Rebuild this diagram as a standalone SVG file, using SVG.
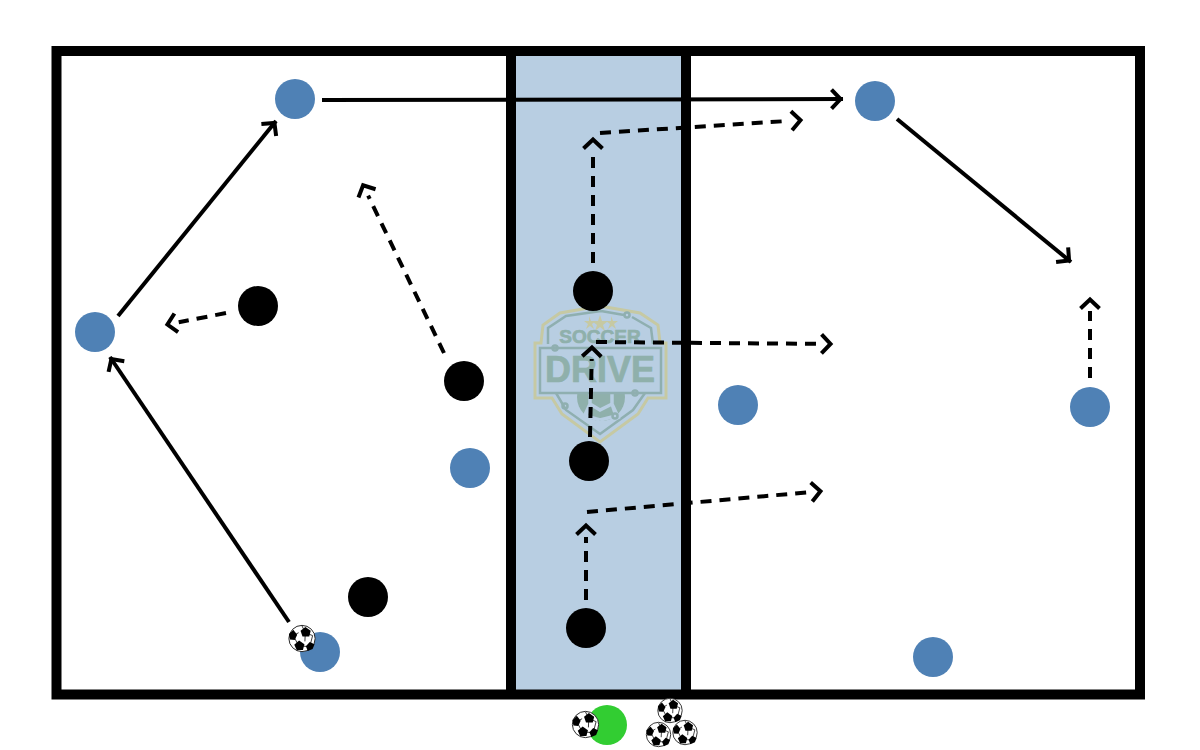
<svg xmlns="http://www.w3.org/2000/svg" width="1200" height="750" viewBox="0 0 1200 750">
<style>
.blue{fill:#4f81b5}.black{fill:#000}.green{fill:#32cd32}
.line{fill:none;stroke:#000;stroke-width:4;marker-end:url(#open)}
.dash{stroke-dasharray:11 8;marker-end:url(#open-d)}
.lg{fill:none;stroke:#8fafb0;stroke-width:2.5}
.lt{font-family:"Liberation Sans",Arial,sans-serif;font-weight:700;fill:#8fb0ab;stroke:#8fb0ab;stroke-width:.7;text-anchor:middle}
</style>
<defs>
<marker id="open" markerUnits="userSpaceOnUse" markerWidth="24" markerHeight="24" refX="12" refY="12" orient="auto" overflow="visible">
<path d="M0.500 2.500L9.500 12L0.500 21.500" fill="none" stroke="#000" stroke-width="4"/>
</marker>
<marker id="open-d" markerUnits="userSpaceOnUse" markerWidth="24" markerHeight="24" refX="-2" refY="12" orient="auto" overflow="visible">
<path d="M0.500 2.500L9.500 12L0.500 21.500" fill="none" stroke="#000" stroke-width="4"/>
</marker>
<symbol id="ball" viewBox="-14.500 -14.500 29 29" overflow="visible">
<circle r="13.600" fill="#fff" stroke="#222" stroke-width="1"/>
<path d="M-9 -3L-3.500 -6M3.400 -6L3 3M-3.500 7.500L-9 -3M-3.500 7.500L8 8.500M8 8.500L11 -3M3.400 -6L11 -3M-3.500 7.500L-5 12.500M8 8.500L6 12.500M3.400 -6L0 -13" fill="none" stroke="#000" stroke-width=".8"/>
<g fill="#000">
<path d="M3.500 -12L9 -8L7.500 -2L0.500 -2L-1.500 -8Z"/>
<path d="M-9 -9L-5 -4L-7.500 1.500L-12.500 1L-13.500 -4.500Z"/>
<path d="M-3 2L2.500 6L1 12L-5.500 12L-8 6.500Z"/>
<path d="M8 3.500L13 6L11 11L6 13L4 8Z"/>
</g>
</symbol>
</defs>
<g id="field">
<rect x="511" y="51" width="175" height="643" fill="#b8cee2"/>
<g id="logo">
<path d="M600 306L640 313L658 325L660 343L666 343L666 398L648 398L638 414L600 442L562 414L552 398L535 398L535 343L541 343L543 325L560 313Z" fill="none" stroke="#c6c9a3" stroke-width="3"/>
<path d="M601 311L624 315M632 317L651 328L653 344M548 344L548 328L566 316L601 311M556 393L566 410L600 434L633 410L645 393" class="lg"/>
<circle cx="601" cy="397" r="24" fill="#8fb0ab"/>
<path d="M590 389L590 404L600 410L612 404L612 389M590 404L583 419M612 404L619 419M590 389L600 383L612 389M590 404L586 416L600 420M612 404L616 416L600 420" fill="none" stroke="#b8cee2" stroke-width="3.500"/>
<rect x="575" y="371" width="52" height="22" fill="#b8cee2"/>
<rect x="540" y="348" width="121" height="45" class="lg"/>
<circle cx="627" cy="315" r="2.500" class="lg"/>
<circle cx="555" cy="348" r="2.500" class="lg"/>
<circle cx="635" cy="393" r="2.500" class="lg"/>
<circle cx="565" cy="406" r="2.500" class="lg"/>
<circle cx="615" cy="416" r="2.500" class="lg"/>
<path d="M589 316l2 5 5 0-4 3 2 5-4-3-4 3 2-5-4-3 5 0ZM600 315l2 6 6 0-5 4 2 6-5-4-5 4 2-6-5-4 6 0ZM611 316l2 5 5 0-4 3 2 5-4-3-4 3 2-5-4-3 5 0Z" fill="#c6c9a3"/>
<text x="600" y="343" class="lt" font-size="19">SOCCER</text>
<text x="600" y="382" class="lt" font-size="36">DRIVE</text>
</g>
<rect x="56.500" y="51" width="1083.500" height="643.500" fill="none" stroke="#000" stroke-width="10"/>
<path d="M511 51V694M686 51V694" stroke="#000" stroke-width="10" fill="none"/>
</g>
<g id="connectors">
<path class="line" d="M289 622L110 357"/>
<path class="line" d="M118 316L276 121"/>
<path class="line" d="M322 100L843 99"/>
<path class="line" d="M897 119L1071 262"/>
<path class="line dash" d="M226 313L178.700 322.300"/>
<path class="line dash" d="M444 353L368.100 195.600"/>
<path class="line dash" d="M593 263L593 151"/>
<path class="line dash" d="M600 133L789 120.900"/>
<path class="line dash" d="M590 437L591.700 359"/>
<path class="line dash" d="M596 342L819 343.900"/>
<path class="line dash" d="M586 600L586 537"/>
<path class="line dash" d="M587 512L809 492.200"/>
<path class="line dash" d="M1090 378L1090 311"/>
</g>
<g id="blue-1"><circle class="blue" cx="295" cy="99" r="20"/></g>
<g id="blue-2"><circle class="blue" cx="95" cy="332" r="20"/></g>
<g id="blue-3"><circle class="blue" cx="470" cy="468" r="20"/></g>
<g id="blue-4"><circle class="blue" cx="320" cy="652" r="20"/></g>
<g id="blue-5"><circle class="blue" cx="875" cy="101" r="20"/></g>
<g id="blue-6"><circle class="blue" cx="738" cy="405" r="20"/></g>
<g id="blue-7"><circle class="blue" cx="1090" cy="407" r="20"/></g>
<g id="blue-8"><circle class="blue" cx="933" cy="657" r="20"/></g>
<g id="black-1"><circle class="black" cx="258" cy="306" r="20"/></g>
<g id="black-2"><circle class="black" cx="464" cy="381" r="20"/></g>
<g id="black-3"><circle class="black" cx="368" cy="597" r="20"/></g>
<g id="black-4"><circle class="black" cx="593" cy="291" r="20"/></g>
<g id="black-5"><circle class="black" cx="589" cy="461" r="20"/></g>
<g id="black-6"><circle class="black" cx="586" cy="628" r="20"/></g>
<g id="green-1"><circle class="green" cx="607" cy="725" r="20"/></g>
<g id="ball-1"><use href="#ball" x="288" y="624.500" width="28" height="28"/></g>
<g id="ball-2"><use href="#ball" x="571.500" y="710.500" width="28" height="28"/></g>
<g id="ball-3"><use href="#ball" x="657" y="697.500" width="26" height="26"/></g>
<g id="ball-4"><use href="#ball" x="645.500" y="721.500" width="26" height="26"/></g>
<g id="ball-5"><use href="#ball" x="672" y="719.500" width="26" height="26"/></g>
</svg>
